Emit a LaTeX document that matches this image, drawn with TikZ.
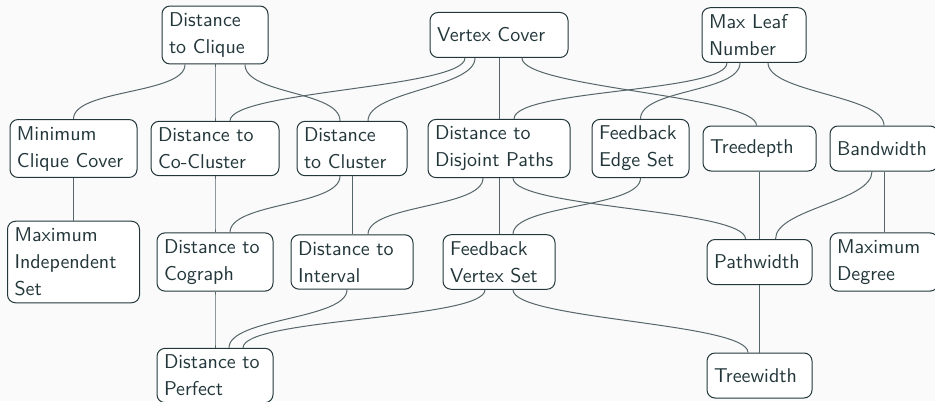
\documentclass[tikz,border=0pt]{standalone}
\usepackage{tikz}
\definecolor{mdarkteal}{HTML}{23373B}
\definecolor{edgegray}{HTML}{56666A}
\definecolor{slidebg}{HTML}{FAFAFA}
\tikzset{
  param/.style={draw=mdarkteal, line width=0.5pt, rounded corners=4pt, fill=white,
                text=mdarkteal, align=left, inner xsep=3.5pt, inner ysep=3.3pt,
                minimum height=22.5pt, font=\sffamily\fontsize{10}{13.5}\selectfont},
  link/.style={draw=edgegray, line width=0.5pt, out=-90, in=90, distance=15pt},
}

\begin{document}
\begin{tikzpicture}[x=0.5pt, y=-0.5pt]
  \fill[slidebg] (0,0) rectangle (935,401);
  \useasboundingbox (0,0) rectangle (935,401);
  % top row
  \node[param, text width=46pt] (dclique) at (215,35) {Distance\\to Clique};
  \node[param, text width=62pt] (vc) at (499,35) {Vertex Cover};
  \node[param, text width=45pt] (mln) at (754,35) {Max Leaf\\Number};
  % second row
  \node[param, text width=56.5pt] (mcc) at (73.5,148.5) {Minimum\\Clique Cover};
  \node[param, text width=57pt] (dcocluster) at (215,148.5) {Distance to\\Co-Cluster};
  \node[param, text width=48pt] (dcluster) at (352,148.5) {Distance\\to Cluster};
  \node[param, text width=64pt] (ddp) at (499,148.5) {Distance to\\Disjoint Paths};
  \node[param, text width=41.5pt] (fes) at (640.5,148.5) {Feedback\\Edge Set};
  \node[param, text width=49.5pt] (td) at (759.5,148.5) {Treedepth};
  \node[param, text width=47pt] (bw) at (884,148.5) {Bandwidth};
  % third row
  \node[param, text width=59pt] (mis) at (73.5,262) {Maximum\\Independent\\Set};
  \node[param, text width=51pt] (dcograph) at (215,262) {Distance to\\Cograph};
  \node[param, text width=54pt] (dinterval) at (352,262) {Distance to\\Interval};
  \node[param, text width=49pt] (fvs) at (499,262) {Feedback\\Vertex Set};
  \node[param, text width=45.5pt] (pw) at (759.5,262) {Pathwidth};
  \node[param, text width=47pt] (md) at (884,262) {Maximum\\Degree};
  % bottom row
  \node[param, text width=51pt] (dperfect) at (215,375.5) {Distance to\\Perfect};
  \node[param, text width=45.5pt] (tw) at (759.5,375.5) {Treewidth};
  % hierarchy links
  \foreach \a/\sa/\b/\sb in {dclique/-15/mcc/0, dclique/0/dcocluster/0, dclique/15/dcluster/-6,
      vc/-17/dcocluster/7.5, vc/-12/dcluster/8, vc/0/ddp/0, vc/11.5/td/-1.5,
      mln/-13.5/ddp/7.5, mln/-7/fes/0, mln/7/bw/0,
      mcc/0/mis/0, dcocluster/0/dcograph/0, dcluster/-6/dcograph/7.5, dcluster/0/dinterval/0,
      ddp/-8/dinterval/8, ddp/0/fvs/0, ddp/7/pw/-7, fes/0/fvs/7, td/0/pw/0, bw/-6/pw/8, bw/0/md/0,
      dcograph/0/dperfect/0, dinterval/-2.5/dperfect/7, fvs/-7/dperfect/14, fvs/7/tw/-5.75, pw/0/tw/0}
    \draw[link] ([xshift=\sa pt]\a.south) to ([xshift=\sb pt]\b.north);
\end{tikzpicture}
\end{document}
